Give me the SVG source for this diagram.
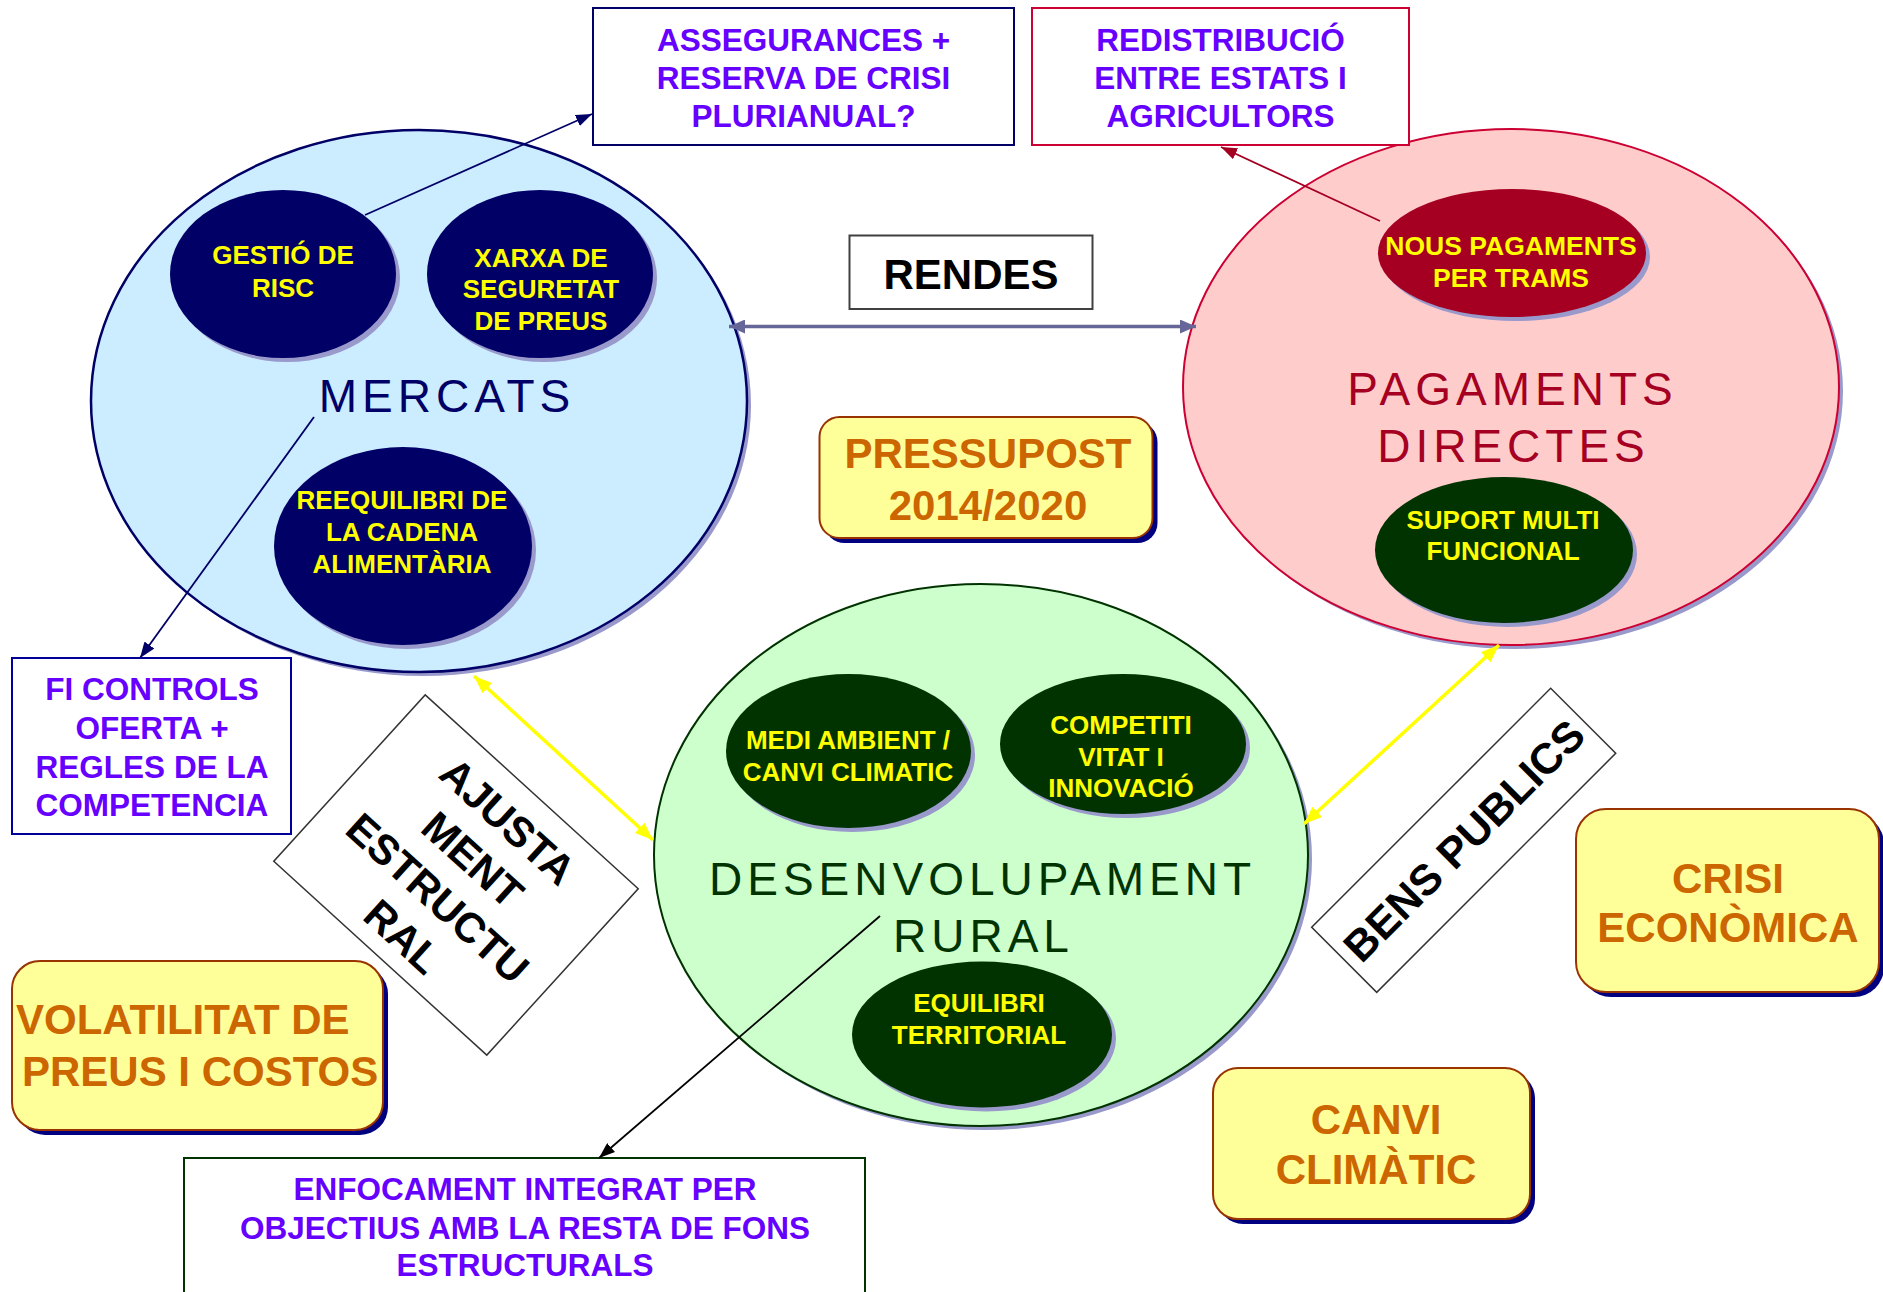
<svg xmlns="http://www.w3.org/2000/svg" width="1883" height="1292" viewBox="0 0 1883 1292">
<defs>
<style>
text{font-family:"Liberation Sans",Arial,sans-serif}
.pur{fill:#6600FF;font-size:31.5px;font-weight:bold;text-anchor:middle}
.yel{fill:#FFFF00;font-size:26px;font-weight:bold;text-anchor:middle}
.org{fill:#CC6600;font-size:42px;font-weight:bold;text-anchor:middle}
.big{font-size:46px;letter-spacing:5px;text-anchor:middle}
.blk{fill:#000;font-size:42px;font-weight:bold;text-anchor:middle}
.sh{fill:#9999CC}
.ybox{fill:#FFFF99;stroke:#993300;stroke-width:2}
.ysh{fill:#000080}
.diam{fill:#fff;stroke:#333;stroke-width:1.5}
.wbox{fill:#fff;stroke-width:2}
</style>
<marker id="aNavy" viewBox="0 0 16 12" refX="16" refY="6" markerWidth="16" markerHeight="12" markerUnits="userSpaceOnUse" orient="auto"><path d="M0,0 L16,6 L0,12 z" fill="#000066"/></marker>
<marker id="aRed" viewBox="0 0 16 12" refX="16" refY="6" markerWidth="16" markerHeight="12" markerUnits="userSpaceOnUse" orient="auto"><path d="M0,0 L16,6 L0,12 z" fill="#A50021"/></marker>
<marker id="aBlk" viewBox="0 0 16 12" refX="16" refY="6" markerWidth="16" markerHeight="12" markerUnits="userSpaceOnUse" orient="auto"><path d="M0,0 L16,6 L0,12 z" fill="#000"/></marker>
<marker id="aSlate" viewBox="0 0 16 14" refX="16" refY="7" markerWidth="16" markerHeight="14" markerUnits="userSpaceOnUse" orient="auto-start-reverse"><path d="M0,0 L16,7 L0,14 z" fill="#666699"/></marker>
<marker id="aYel" viewBox="0 0 18 14" refX="18" refY="7" markerWidth="18" markerHeight="14" markerUnits="userSpaceOnUse" orient="auto-start-reverse"><path d="M0,0 L18,7 L0,14 z" fill="#FFFF00"/></marker>
</defs>
<rect width="1883" height="1292" fill="#fff"/>

<!-- Big circles -->
<g id="mercats">
<ellipse class="sh" cx="423" cy="405" rx="328" ry="271"/>
<ellipse cx="419" cy="401" rx="328" ry="271" fill="#CCECFF" stroke="#000066" stroke-width="2.5"/>
<text class="big" x="447" y="411.5" fill="#000066">MERCATS</text>
</g>
<g id="pagaments">
<ellipse class="sh" cx="1515" cy="391" rx="328" ry="258"/>
<ellipse cx="1511" cy="387" rx="328" ry="258" fill="#FFCCCC" stroke="#CC0033" stroke-width="2"/>
<text class="big" x="1512.5" y="405" fill="#A50021">PAGAMENTS</text>
<text class="big" x="1513.5" y="462" fill="#A50021">DIRECTES</text>
</g>
<g id="desenvolupament">
<ellipse class="sh" cx="985" cy="859" rx="327" ry="271"/>
<ellipse cx="981" cy="855" rx="327" ry="271" fill="#CCFFCC" stroke="#003300" stroke-width="2"/>
<text class="big" x="982.5" y="894.5" fill="#003300">DESENVOLUPAMENT</text>
<text class="big" x="983.5" y="952" fill="#003300">RURAL</text>
</g>

<!-- Inner ellipses -->
<g id="gestio">
<ellipse class="sh" cx="287" cy="278" rx="113" ry="84"/>
<ellipse cx="283" cy="274" rx="113" ry="84" fill="#000066"/>
<text class="yel" x="283" y="264">GESTIÓ DE</text>
<text class="yel" x="283" y="296.5">RISC</text>
</g>
<g id="xarxa">
<ellipse class="sh" cx="544" cy="278" rx="113" ry="84"/>
<ellipse cx="540" cy="274" rx="113" ry="84" fill="#000066"/>
<text class="yel" x="541" y="266.5">XARXA DE</text>
<text class="yel" x="541" y="298">SEGURETAT</text>
<text class="yel" x="541" y="329.5">DE PREUS</text>
</g>
<g id="reequilibri">
<ellipse class="sh" cx="407" cy="550" rx="129" ry="99"/>
<ellipse cx="403" cy="546" rx="129" ry="99" fill="#000066"/>
<text class="yel" x="402" y="509">REEQUILIBRI DE</text>
<text class="yel" x="402" y="541">LA CADENA</text>
<text class="yel" x="402" y="573">ALIMENTÀRIA</text>
</g>
<g id="nous">
<ellipse class="sh" cx="1516" cy="257" rx="134" ry="64"/>
<ellipse cx="1512" cy="253" rx="134" ry="64" fill="#A50021"/>
<text class="yel" x="1511" y="255" style="font-size:26.5px">NOUS PAGAMENTS</text>
<text class="yel" x="1511" y="287" style="font-size:26.5px">PER TRAMS</text>
</g>
<g id="suport">
<ellipse class="sh" cx="1508" cy="554" rx="129" ry="73"/>
<ellipse cx="1504" cy="550" rx="129" ry="73" fill="#003300"/>
<text class="yel" x="1503" y="529">SUPORT MULTI</text>
<text class="yel" x="1503" y="560">FUNCIONAL</text>
</g>
<g id="medi">
<ellipse class="sh" cx="852.5" cy="755" rx="122.5" ry="77"/>
<ellipse cx="848.5" cy="751" rx="122.5" ry="77" fill="#003300"/>
<text class="yel" x="848" y="749">MEDI AMBIENT /</text>
<text class="yel" x="848" y="780.5">CANVI CLIMATIC</text>
</g>
<g id="competitivitat">
<ellipse class="sh" cx="1127" cy="748" rx="123" ry="70"/>
<ellipse cx="1123" cy="744" rx="123" ry="70" fill="#003300"/>
<text class="yel" x="1121" y="734">COMPETITI</text>
<text class="yel" x="1121" y="765.5">VITAT I</text>
<text class="yel" x="1121" y="797">INNOVACIÓ</text>
</g>
<g id="equilibri">
<ellipse class="sh" cx="986" cy="1038.5" rx="130" ry="73"/>
<ellipse cx="982" cy="1034.5" rx="130" ry="73" fill="#003300"/>
<text class="yel" x="979" y="1012">EQUILIBRI</text>
<text class="yel" x="979" y="1043.5">TERRITORIAL</text>
</g>

<!-- White label boxes -->
<g id="assegurances">
<rect class="wbox" x="593" y="8" width="421" height="137" stroke="#000066"/>
<text class="pur" x="803.5" y="51">ASSEGURANCES +</text>
<text class="pur" x="803.5" y="89">RESERVA DE CRISI</text>
<text class="pur" x="803.5" y="127">PLURIANUAL?</text>
</g>
<g id="redistribucio">
<rect class="wbox" x="1032" y="8" width="377" height="137" stroke="#CC0033"/>
<text class="pur" x="1220.5" y="51">REDISTRIBUCIÓ</text>
<text class="pur" x="1220.5" y="89">ENTRE ESTATS I</text>
<text class="pur" x="1220.5" y="127">AGRICULTORS</text>
</g>
<g id="ficontrols">
<rect class="wbox" x="12" y="658" width="279" height="176" stroke="#000099"/>
<text class="pur" x="152" y="700">FI CONTROLS</text>
<text class="pur" x="152" y="739">OFERTA +</text>
<text class="pur" x="152" y="777.5">REGLES DE LA</text>
<text class="pur" x="152" y="816">COMPETENCIA</text>
</g>
<g id="enfocament">
<rect class="wbox" x="184" y="1158" width="681" height="150" stroke="#003300"/>
<text class="pur" x="525" y="1200">ENFOCAMENT INTEGRAT PER</text>
<text class="pur" x="525" y="1238.5">OBJECTIUS AMB LA RESTA DE FONS</text>
<text class="pur" x="525" y="1276">ESTRUCTURALS</text>
</g>
<g id="rendes">
<rect class="wbox" x="849.5" y="235.5" width="243" height="73.5" stroke="#404040"/>
<text class="blk" x="971" y="288.5">RENDES</text>
</g>

<!-- Yellow rounded boxes -->
<g id="pressupost">
<rect class="ysh" x="824.5" y="422" width="333" height="121" rx="20"/>
<rect class="ybox" x="819.5" y="417" width="333" height="121" rx="20"/>
<text class="org" x="988" y="468">PRESSUPOST</text>
<text class="org" x="988" y="520">2014/2020</text>
</g>
<g id="crisi">
<rect class="ysh" x="1581" y="814" width="303" height="183" rx="30"/>
<rect class="ybox" x="1576" y="809" width="303" height="183" rx="30"/>
<text class="org" x="1728" y="892.5">CRISI</text>
<text class="org" x="1728" y="942">ECONÒMICA</text>
</g>
<g id="canvi">
<rect class="ysh" x="1218" y="1073" width="317" height="151" rx="25"/>
<rect class="ybox" x="1213" y="1068" width="317" height="151" rx="25"/>
<text class="org" x="1376" y="1134">CANVI</text>
<text class="org" x="1376" y="1184">CLIMÀTIC</text>
</g>
<g id="volatilitat">
<rect class="ysh" x="17" y="966" width="371" height="169" rx="28"/>
<rect class="ybox" x="12" y="961" width="371" height="169" rx="28"/>
<text class="org" x="16" y="1034" style="text-anchor:start">VOLATILITAT DE</text>
<text class="org" x="22" y="1086" style="text-anchor:start">PREUS I COSTOS</text>
</g>

<!-- Diamonds -->
<g id="ajustament" transform="translate(456,875) rotate(42.3)">
<rect class="diam" x="-144" y="-112.5" width="288" height="225"/>
<text class="blk" x="2" y="-60">AJUSTA</text>
<text class="blk" x="2" y="-8">MENT</text>
<text class="blk" x="2" y="44">ESTRUCTU</text>
<text class="blk" x="2" y="96">RAL</text>
</g>
<g id="benspublics" transform="translate(1463.7,840.3) rotate(-45)">
<rect class="diam" x="-169" y="-46" width="338" height="92"/>
<text class="blk" x="0" y="15.5" style="font-size:43px">BENS PUBLICS</text>
</g>

<!-- Connectors -->
<g id="connectors" fill="none">
<line x1="365" y1="215" x2="592" y2="114" stroke="#000066" stroke-width="1.8" marker-end="url(#aNavy)"/>
<line x1="314" y1="417" x2="140" y2="658" stroke="#000066" stroke-width="1.8" marker-end="url(#aNavy)"/>
<line x1="1380" y1="221" x2="1221" y2="147" stroke="#A50021" stroke-width="1.8" marker-end="url(#aRed)"/>
<line x1="880" y1="916" x2="599" y2="1158" stroke="#000" stroke-width="1.8" marker-end="url(#aBlk)"/>
<line x1="729" y1="326.5" x2="1196" y2="326.5" stroke="#666699" stroke-width="3.5" marker-start="url(#aSlate)" marker-end="url(#aSlate)"/>
<line x1="474" y1="676" x2="653" y2="840" stroke="#FFFF00" stroke-width="3.5" marker-start="url(#aYel)" marker-end="url(#aYel)"/>
<line x1="1499" y1="645" x2="1304" y2="824" stroke="#FFFF00" stroke-width="3.5" marker-start="url(#aYel)" marker-end="url(#aYel)"/>
</g>
</svg>
